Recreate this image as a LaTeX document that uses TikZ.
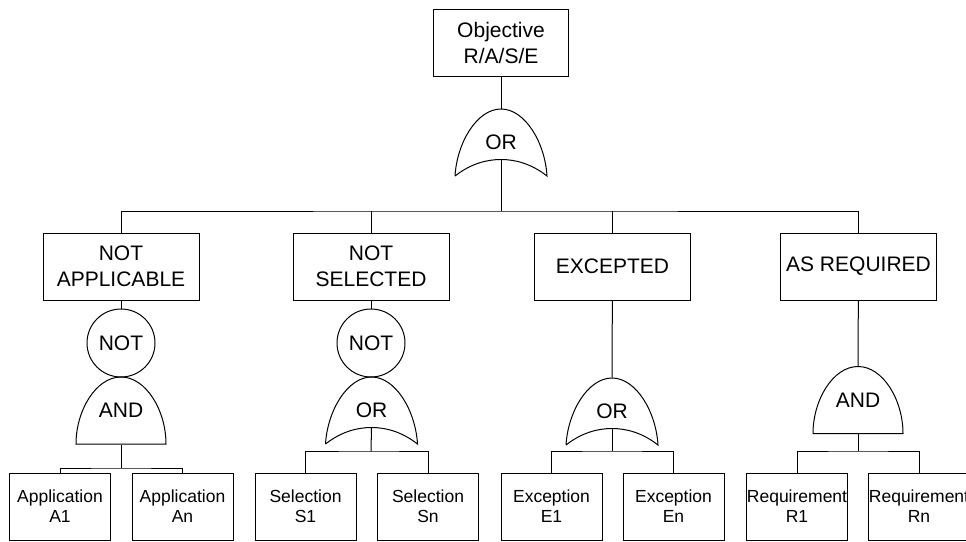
\documentclass[tikz,border=0pt]{standalone}
\usepackage{fontspec}
\setmainfont{Liberation Sans}
\usetikzlibrary{positioning}
\tikzset{
  evbox/.style={draw,minimum width=156pt,minimum height=67pt,align=center,inner sep=0pt,font=\fontsize{21}{26}\selectfont},
  leafbox/.style={draw,minimum width=101pt,minimum height=67pt,align=center,inner sep=0pt,font=\fontsize{17.5}{20}\selectfont},
  gatelbl/.style={minimum width=90pt,minimum height=67pt,inner sep=0pt,font=\fontsize{21}{26}\selectfont},
  notgate/.style={draw,circle,minimum size=68pt,inner sep=0pt,font=\fontsize{21}{26}\selectfont}
}
\newcommand\andshape[1]{\draw[shift={(#1.center)}] (-45,33.5) .. controls (-45,0) and (-25,-33.5) .. (0,-33.5)
  .. controls (25,-33.5) and (45,0) .. (45,33.5) -- cycle;}
\newcommand\orshape[1]{\draw[shift={(#1.center)}] (-46,33.5) .. controls (-44,0) and (-24,-33.5) .. (0,-33.5)
  .. controls (24,-33.5) and (44,0) .. (46,33.5) .. controls (30,21) and (14,17) .. (0,17)
  .. controls (-14,17) and (-30,21) .. (-46,33.5);
  \path[shift={(#1.center)}] (0,17) coordinate (#1-out);}
\begin{document}
\begin{tikzpicture}[x=1pt,y=-1pt,line width=1pt]
  \useasboundingbox (0,0) rectangle (966,541);
  \node[evbox,minimum width=135pt] (obj) at (501,42.5) {Objective\\R/A/S/E};
  \node[gatelbl] (g0) at (501,142.5) {OR}; \orshape{g0}
  \draw (obj) -- (g0.north);
  \node[evbox] (na) at (121,266.5) {NOT\\APPLICABLE};
  \node[evbox] (ns) at (371,266.5) {NOT\\SELECTED};
  \node[evbox] (ex) at (612.5,266.5) {EXCEPTED};
  \node[evbox] (ar) at (858.5,266.5) {AS REQUIRED};
  \coordinate (bus0) at (501,211);
  \draw (g0-out) -- (bus0); \draw (na.north) |- (bus0) -| (ar.north);
  \draw (ns.north) -- (ns.north |- bus0); \draw (ex.north) -- (ex.north |- bus0);
  \node[notgate] (n1) at (121,343) {NOT}; \node[gatelbl] (a1) at (121,410.5) {AND}; \andshape{a1}
  \node[notgate] (n2) at (371,343) {NOT}; \node[gatelbl] (o2) at (371.5,410.5) {OR}; \orshape{o2}
  \node[gatelbl] (o3) at (612,411.5) {OR}; \orshape{o3}
  \node[gatelbl] (a4) at (858,400) {AND}; \andshape{a4}
  \draw (na) -- (n1); \draw (ns) -- (n2); \draw (ex) -- (o3.north); \draw (ar) -- (a4.north);
  \node[leafbox] (A1) at (60,506.5) {Application\\A1};
  \node[leafbox] (An) at (182.5,506.5) {Application\\An};
  \node[leafbox] (S1) at (305.5,506.5) {Selection\\S1};
  \node[leafbox] (Sn) at (428,506.5) {Selection\\Sn};
  \node[leafbox] (E1) at (551.5,506.5) {Exception\\E1};
  \node[leafbox] (En) at (673.5,506.5) {Exception\\En};
  \node[leafbox] (R1) at (797,506.5) {Requirement\\R1};
  \node[leafbox] (Rn) at (919,506.5) {Requirement\\Rn};
  \coordinate (b1) at (121,468); \coordinate (b2) at (371,451);
  \coordinate (b3) at (612,451); \coordinate (b4) at (858,451);
  \draw (a1.south) -- (b1); \draw (A1.north) |- (b1) -| (An.north);
  \draw (o2-out) -- (b2); \draw (S1.north) |- (b2) -| (Sn.north);
  \draw (o3-out) -- (b3); \draw (E1.north) |- (b3) -| (En.north);
  \draw (a4.south) -- (b4); \draw (R1.north) |- (b4) -| (Rn.north);
\end{tikzpicture}
\end{document}
